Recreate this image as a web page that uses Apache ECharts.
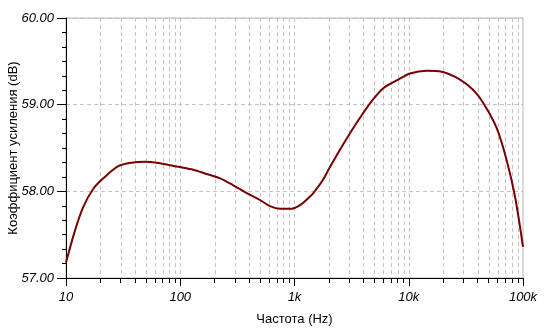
<!DOCTYPE html>
<html>
<head>
<meta charset="utf-8">
<script src="https://cdn.jsdelivr.net/npm/echarts@6/dist/echarts.min.js"></script>
<style>html,body{margin:0;padding:0;background:#fff}#c{width:546px;height:336px}</style>
</head>
<body>
<div id="c"></div>
<script>
// Frequency (Hz) and gain (dB)
var freq = [10, 12, 14.17, 17.34, 21.2, 28.7, 37.6, 49.1, 62.2, 81.3, 99.5, 130, 170, 223, 291, 382, 499, 610, 747, 945, 1117, 1367, 1461, 1730, 2045, 2500, 3060, 3618, 4739, 5985, 8100, 10260, 14360, 19420, 28100, 36730, 44920, 58880, 71950, 85110, 100000];
var gain = [57.18, 57.55, 57.82, 58.03, 58.15, 58.29, 58.33, 58.34, 58.33, 58.30, 58.28, 58.25, 58.20, 58.15, 58.07, 57.98, 57.90, 57.83, 57.80, 57.80, 57.84, 57.94, 57.98, 58.11, 58.28, 58.48, 58.67, 58.82, 59.04, 59.19, 59.29, 59.36, 59.39, 59.38, 59.29, 59.17, 59.02, 58.73, 58.36, 57.94, 57.36];
var xTickValues = [10, 100, 1000, 10000, 100000];
var xTickLabels = ['10', '100', '1k', '10k', '100k'];
var yTickLabels = ['57.00', '58.00', '59.00', '60.00'];
var minorMult = [2, 3, 4, 5, 6, 7, 8, 9];
var decades = [10, 100, 1000, 10000];
var xName = 'Частота (Hz)';
var yName = 'Коэффициент усиления (dB)';

var minorValues = [];
decades.forEach(function (d) { minorMult.forEach(function (m) { minorValues.push(m * d); }); });
var vGrid = minorValues.concat([100, 1000, 10000]).map(function (v) { return [v]; });
// tick values given both as raw values and as exponents; whichever the log scale
// does not use falls outside its extent and is dropped
var minorTickCustom = minorValues.concat(minorValues.map(function (v) { return Math.log10(v); }));

var chart = echarts.init(document.getElementById('c'), null, {renderer: 'canvas'});
var lblFont = {fontFamily: 'Liberation Sans', fontStyle: 'italic', fontSize: 13, color: '#000'};
chart.setOption({
  animation: false,
  backgroundColor: '#fff',
  grid: {left: 66, right: 23, top: 18, bottom: 58, containLabel: false, outerBoundsMode: 'none',
    show: true, borderColor: '#b4b4b4', borderWidth: 1, backgroundColor: 'transparent'},
  xAxis: [{
    type: 'log', logBase: 10, min: 10, max: 100000, position: 'bottom',
    name: xName, nameLocation: 'middle', nameGap: 35, nameMoveOverlap: false,
    nameTextStyle: {fontFamily: 'Liberation Sans', fontSize: 13, color: '#000'},
    axisLine: {show: true, onZero: false, lineStyle: {color: '#000', width: 1}},
    axisTick: {show: true, length: 8, lineStyle: {color: '#000'}},
    axisLabel: Object.assign({margin: 13, formatter: function (v) {
      var i = xTickValues.indexOf(Math.round(v)); return i >= 0 ? xTickLabels[i] : ''; }}, lblFont),
    splitLine: {show: false}
  }, {
    type: 'log', logBase: 10, min: 10, max: 100000, position: 'bottom', offset: 0,
    axisLine: {show: true, onZero: false, lineStyle: {color: '#000', width: 1}},
    axisTick: {show: true, length: 5, customValues: minorTickCustom, lineStyle: {color: '#000'}},
    axisLabel: {show: false},
    splitLine: {show: false}
  }],
  yAxis: {
    type: 'value', min: 57, max: 60, interval: 1,
    name: yName, nameLocation: 'middle', nameGap: 46, nameMoveOverlap: false,
    nameTextStyle: {fontFamily: 'Liberation Sans', fontSize: 13, color: '#000'},
    axisLine: {show: true, lineStyle: {color: '#000', width: 1}},
    axisTick: {show: true, length: 9, lineStyle: {color: '#000'}},
    minorTick: {show: true, splitNumber: 6, length: 4, lineStyle: {color: '#000'}},
    axisLabel: Object.assign({margin: 12, formatter: function (v) { return yTickLabels[Math.round(v - 57)]; }}, lblFont),
    splitLine: {show: true, lineStyle: {color: '#c4c4c4', type: [4, 3], width: 1}}
  },
  series: [
    {
      type: 'custom', silent: true, clip: false, z: 1,
      data: vGrid,
      renderItem: function (params, api) {
        var v = api.value(0);
        var top = api.coord([v, 60]), bot = api.coord([v, 57]);
        var x = Math.round(top[0]) + 0.5;
        return {
          type: 'line', shape: {x1: x, y1: top[1], x2: x, y2: bot[1]},
          style: {stroke: '#c4c4c4', lineWidth: 1, lineDash: [4, 3]}
        };
      }
    },
    {
      type: 'line', z: 5,
      data: freq.map(function (f, i) { return [f, gain[i]]; }),
      showSymbol: false, smooth: 0.3,
      lineStyle: {color: '#780000', width: 2}
    }
  ]
});
</script>
</body>
</html>
